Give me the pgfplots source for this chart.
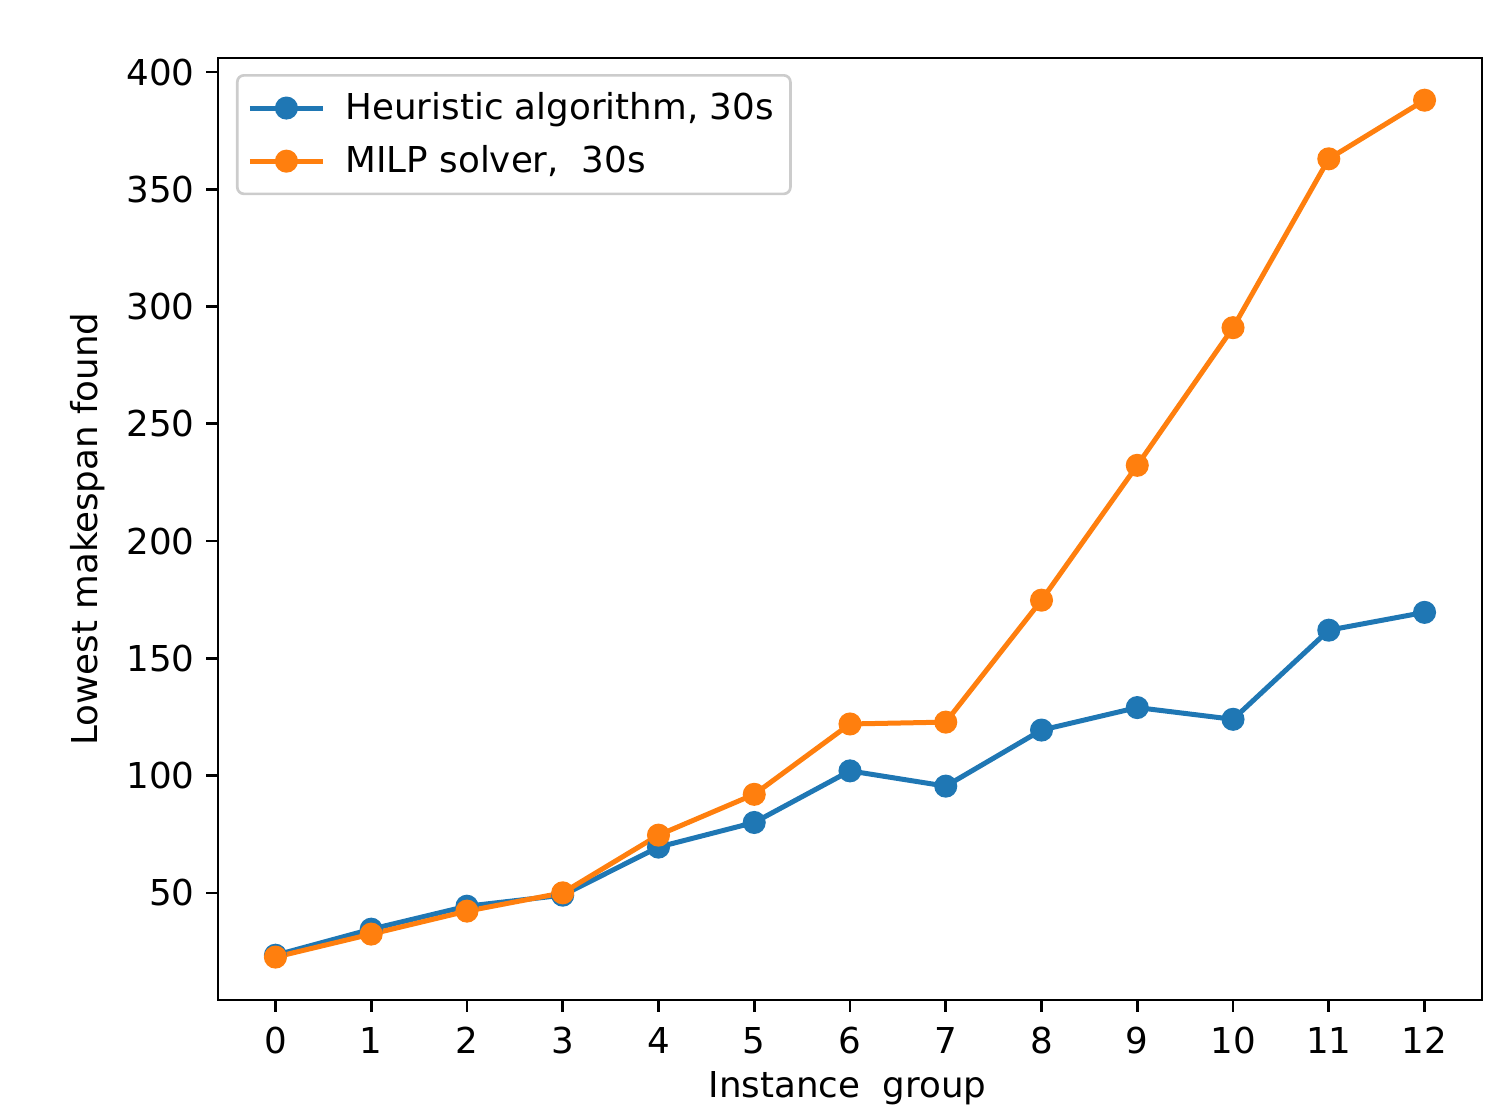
\documentclass[border=0pt]{standalone}
\usepackage{fontspec}
\setmainfont{DejaVu Sans}
\usepackage{pgfplots}
\pgfplotsset{compat=1.18}
\definecolor{mplblue}{HTML}{1F77B4}
\definecolor{mplorange}{HTML}{FF7F0E}
\definecolor{legedge}{HTML}{CCCCCC}

\begin{document}
\begin{tikzpicture}
\begin{axis}[scale only axis,width=379.2pt,height=282.6pt,
  xmin=-0.6,xmax=12.6,ymin=4.3,ymax=406,
  xtick={0,1,...,12},ytick={50,100,...,400},
  xtick pos=bottom,ytick pos=left,tick align=outside,
  major tick length=3.5pt,
  every tick/.style={black,line width=0.8pt},
  axis line style={line width=0.8pt},
  /pgf/number format/assume math mode=true,
  ticklabel style={font=\fontsize{10.7}{12.8}\selectfont},
  xticklabel style={yshift=-1.2pt},
  xlabel={Instance\ \ group},ylabel={Lowest makespan found},
  label style={font=\fontsize{10.7}{12.8}\selectfont},
  xlabel style={at={(axis description cs:0.498,-0.0934)},anchor=center},
  ylabel style={at={(axis description cs:-0.103,0.5)},anchor=center},
  legend cell align=left,
  legend image code/.code={\draw[mark repeat=2,mark phase=2] plot coordinates {(0pt,0pt) (11pt,0pt) (22pt,0pt)};\path (26pt,0pt);},
  legend style={at={(axis description cs:0.0142,0.983)},anchor=north west,
    draw=legedge,line width=0.8pt,rounded corners=2pt,fill=white,
    font=\fontsize{10.7}{12.8}\selectfont,row sep=2.3pt,inner xsep=3pt,inner ysep=3pt},
]
\addplot[color=mplblue,line width=1.5pt,mark=*,mark size=2.7pt,mark options={solid,fill=mplblue,draw=mplblue}]
  coordinates {(0,23.4) (1,34.5) (2,44.3) (3,49) (4,69.5) (5,80) (6,102) (7,95.5) (8,119.4) (9,129) (10,124) (11,162) (12,169.6)};
\addplot[color=mplorange,line width=1.5pt,mark=*,mark size=2.7pt,mark options={solid,fill=mplorange,draw=mplorange}]
  coordinates {(0,22.6) (1,32.4) (2,42.2) (3,50) (4,74.6) (5,92) (6,122) (7,122.8) (8,174.8) (9,232.3) (10,291) (11,363) (12,388)};
\legend{{Heuristic algorithm, 30s},{MILP solver,\ \ 30s}}
\end{axis}
\pgfresetboundingbox
\useasboundingbox ([xshift=-65.4pt,yshift=-32.1pt]current axis.south west) rectangle ([xshift=7.8pt,yshift=17.4pt]current axis.north east);
\end{tikzpicture}
\end{document}
